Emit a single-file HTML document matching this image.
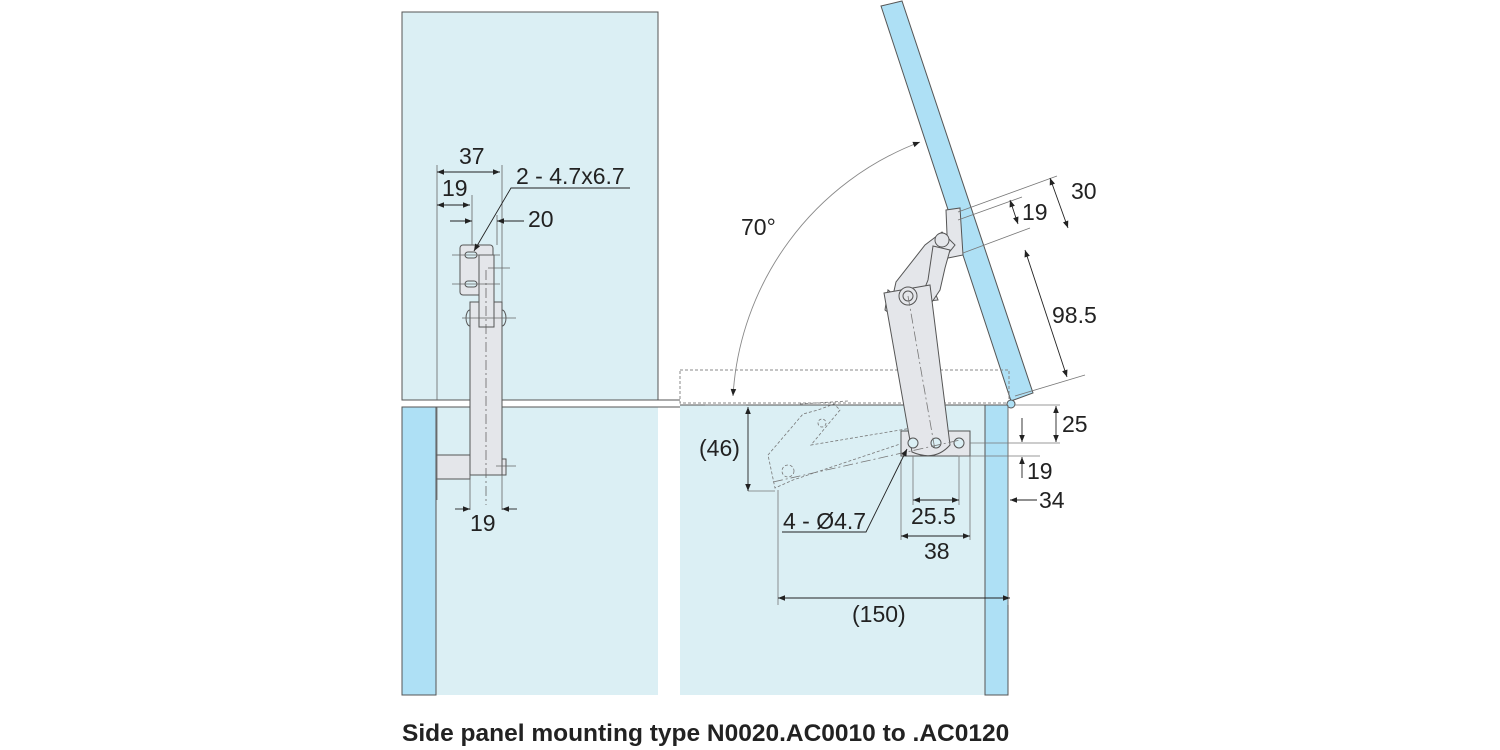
<!DOCTYPE html>
<html><head><meta charset="utf-8"><style>
html,body{margin:0;padding:0;background:#fff;width:1500px;height:750px;overflow:hidden}
svg{display:block}
text{font-family:"Liberation Sans",Arial,sans-serif;fill:#222}
</style></head><body>
<svg width="1500" height="750" viewBox="0 0 1500 750" xmlns="http://www.w3.org/2000/svg">
<defs>
<marker id="a" viewBox="0 0 10 10" refX="10" refY="5" markerWidth="12" markerHeight="7" orient="auto-start-reverse" markerUnits="userSpaceOnUse"><path d="M0,1L10,5L0,9z" fill="#222"/></marker>
</defs>
<g stroke="#555" stroke-width="1">
<rect x="402" y="12" width="256" height="388" fill="#dbeff4"/>
<rect x="402" y="407" width="256" height="288" fill="#dbeff4" stroke="none"/>
<line x1="402" y1="407" x2="658" y2="407"/>
<rect x="402" y="407" width="34" height="288" fill="#aee0f5"/>
<line x1="658" y1="400" x2="680" y2="400"/>
<line x1="658" y1="407" x2="680" y2="407"/>
<rect x="680" y="405" width="305" height="290" fill="#dbeff4" stroke="none"/>
<line x1="680" y1="405" x2="1008" y2="405"/>
<rect x="985" y="405" width="23" height="290" fill="#aee0f5"/>
<polygon points="881,6 902,1 1033,393 1011,401" fill="#aee0f5"/>
<rect x="680" y="370" width="329" height="33" fill="none" stroke="#888" stroke-dasharray="3,2"/>
<circle cx="1011" cy="404" r="4" fill="#aee0f5"/>
</g>
<g stroke="#555" stroke-width="1" fill="#e4e6ea">
<rect x="460" y="245" width="33" height="50" rx="3"/>
<rect x="470" y="302" width="32" height="173"/>
<rect x="436" y="455" width="34" height="24"/>
<rect x="502" y="459" width="4" height="16"/>
<rect x="479" y="255" width="15" height="72"/>
<path d="M470,310 a4,8 0 0 0 0,16 M502,310 a4,8 0 0 1 0,16" fill="none"/>
<rect x="465" y="252" width="12" height="6" rx="3" fill="#dbeff4"/>
<rect x="465" y="281" width="12" height="6" rx="3" fill="#dbeff4"/>
</g>
<g stroke="#666" stroke-width="0.8" fill="none">
<path d="M486,270V505" stroke-dasharray="10,3,2,3"/>
<path d="M437,165V400M437,407V500 M472,195V245 M502,165V302 M470,475V510 M502,475V510 M497,215V245"/>
<path d="M452,255H500 M452,284H500 M488,268H510 M462,318H516 M496,466H516"/>
</g>
<g stroke="#222" stroke-width="0.9" fill="none">
<line x1="437" y1="172" x2="500" y2="172" marker-start="url(#a)" marker-end="url(#a)"/>
<line x1="437" y1="205" x2="470" y2="205" marker-start="url(#a)" marker-end="url(#a)"/>
<line x1="450" y1="221" x2="472" y2="221" marker-end="url(#a)"/>
<line x1="524" y1="221" x2="497" y2="221" marker-end="url(#a)"/>
<line x1="455" y1="509" x2="470" y2="509" marker-end="url(#a)"/>
<line x1="517" y1="509" x2="502" y2="509" marker-end="url(#a)"/>
<polyline points="630,188 511,188 474,251" marker-end="url(#a)"/>
</g>
<g font-size="23">
<text x="459" y="164">37</text>
<text x="442" y="196">19</text>
<text x="516" y="184">2 - 4.7x6.7</text>
<text x="528" y="227">20</text>
<text x="470" y="531">19</text>
</g>
<g stroke="#777" stroke-width="0.8" fill="none" stroke-dasharray="3,2">
<path d="M768,455 L803,414 L818,410 L834,404 L840,410 L811,445 L912,428 L918,438 L793,480 L775,488 Z"/>
<circle cx="788" cy="471" r="6"/>
<circle cx="822" cy="423" r="4"/>
<path d="M800,404 L848,401"/>
</g>
<g stroke="#555" stroke-width="1" fill="#e4e6ea">
<path d="M946,210 L960,208 L963,255 L948,258 Z"/>
<path d="M942,232 L955,245 L935,270 L932,285 L938,300 L920,302 L900,300 L888,290 L885,310 L896,318 L892,300 L896,282 L925,245 Z"/>
<path d="M933,246 L950,250 L945,268 L940,290 L930,305 L920,300 L928,280 Z"/>
<circle cx="942" cy="240" r="7"/>
<rect x="901" y="431" width="69" height="25"/>
<path d="M884,293 L930,285 L950,445 Q935,462 912,452 Z"/>
<circle cx="908" cy="296" r="9"/>
<circle cx="908" cy="296" r="5"/>
<circle cx="913" cy="443" r="5" fill="#dbeff4"/>
<circle cx="936" cy="443" r="5" fill="#dbeff4"/>
<circle cx="959" cy="443" r="5" fill="#dbeff4"/>
</g>
<g stroke="#777" stroke-width="0.8" fill="none">
<path d="M908,296 L935,450" stroke-dasharray="10,3,2,3"/>
<path d="M773,482 L960,440" stroke-dasharray="10,3,2,3"/>
<path d="M901,460V540 M913,456V505 M959,456V505 M970,456V540 M778,490V605 M1008,405V605"/>
<path d="M746,405H705 M748,491H775 M1014,405H1060 M970,443H1060 M958,456H1040"/>
<path d="M958,212 L1057,176 M958,220 L1022,197 M963,253 L1030,228 M1015,396 L1085,375"/>
</g>
<g stroke="#222" stroke-width="0.9" fill="none">
<line x1="748" y1="407" x2="748" y2="491" marker-start="url(#a)" marker-end="url(#a)"/>
<line x1="1056" y1="406" x2="1056" y2="442" marker-start="url(#a)" marker-end="url(#a)"/>
<line x1="1022" y1="418" x2="1022" y2="442" marker-end="url(#a)"/>
<line x1="1022" y1="478" x2="1022" y2="457" marker-end="url(#a)"/>
<line x1="1050" y1="178" x2="1068" y2="228" marker-start="url(#a)" marker-end="url(#a)"/>
<line x1="1010" y1="200" x2="1018" y2="224" marker-start="url(#a)" marker-end="url(#a)"/>
<line x1="1025" y1="250" x2="1067" y2="377" marker-start="url(#a)" marker-end="url(#a)"/>
<line x1="913" y1="500" x2="959" y2="500" marker-start="url(#a)" marker-end="url(#a)"/>
<line x1="901" y1="536" x2="970" y2="536" marker-start="url(#a)" marker-end="url(#a)"/>
<line x1="778" y1="598" x2="1010" y2="598" marker-start="url(#a)" marker-end="url(#a)"/>
<line x1="1037" y1="500" x2="1010" y2="500" marker-end="url(#a)"/>
<polyline points="782,532 866,532 907,449" marker-end="url(#a)"/>
<path d="M733,396 A290,290 0 0 1 920,142" stroke="#888" marker-start="url(#a)" marker-end="url(#a)"/>
</g>
<g font-size="23">
<text x="741" y="235">70°</text>
<text x="1071" y="199">30</text>
<text x="1022" y="220">19</text>
<text x="1052" y="323">98.5</text>
<text x="1062" y="432">25</text>
<text x="1027" y="479">19</text>
<text x="1039" y="508">34</text>
<text x="699" y="456">(46)</text>
<text x="783" y="529">4 - Ø4.7</text>
<text x="911" y="524">25.5</text>
<text x="924" y="559">38</text>
<text x="852" y="622">(150)</text>
</g>
<text x="402" y="741" font-size="24.5" font-weight="bold">Side panel mounting type N0020.AC0010 to .AC0120</text>
</svg>
</body></html>
